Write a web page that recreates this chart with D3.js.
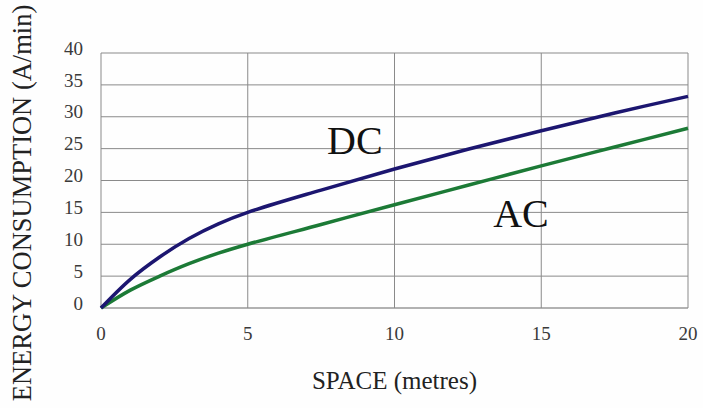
<!DOCTYPE html>
<html>
<head>
<meta charset="utf-8">
<script src="https://cdn.jsdelivr.net/npm/d3@7"></script>
<style>
  body { margin: 0; background: #fff; }
  svg { display: block; }
</style>
</head>
<body>
<div id="chart"></div>
<script>
// values
const space = [0, 1, 2, 3, 4, 5, 7.5, 10, 12.5, 15, 17.5, 20];
const dcValues = [0, 4.5, 8.0, 10.9, 13.2, 15, 18.5, 21.8, 24.9, 27.8, 30.6, 33.2];
const acValues = [0, 2.8, 5.0, 6.95, 8.6, 10, 13.1, 16.2, 19.25, 22.3, 25.25, 28.2];
const xTicks = [0, 5, 10, 15, 20];
const yTicks = [0, 5, 10, 15, 20, 25, 30, 35, 40];

const width = 703;
const height = 408;
const margin = { top: 53, right: 15, bottom: 100, left: 101 };
const font = "'Liberation Serif', 'DejaVu Serif', serif";

const svg = d3.select("#chart")
  .append("svg")
  .attr("width", width)
  .attr("height", height);

svg.append("rect")
  .attr("width", width)
  .attr("height", height)
  .attr("fill", "#fefefe");

const x = d3.scaleLinear()
  .domain([0, 20])
  .range([margin.left, width - margin.right]);

const y = d3.scaleLinear()
  .domain([0, 40])
  .range([height - margin.bottom, margin.top]);

// grid
const grid = svg.append("g").attr("stroke", "#8a8a8a").attr("stroke-width", 1);
grid.selectAll("line.h")
  .data(yTicks)
  .enter()
  .append("line")
  .attr("class", "h")
  .attr("x1", x(0))
  .attr("x2", x(20))
  .attr("y1", d => y(d))
  .attr("y2", d => y(d))
  .attr("stroke", d => d === 0 ? "#666" : null);
grid.selectAll("line.v")
  .data(xTicks)
  .enter()
  .append("line")
  .attr("class", "v")
  .attr("y1", y(0))
  .attr("y2", y(40))
  .attr("x1", d => x(d))
  .attr("x2", d => x(d));

// tick labels
svg.append("g")
  .selectAll("text")
  .data(yTicks)
  .enter()
  .append("text")
  .attr("x", 83)
  .attr("y", d => y(d) - 5)
  .attr("dy", "0.35em")
  .attr("text-anchor", "end")
  .style("font-family", font)
  .style("font-size", "19px")
  .style("fill", "#3a3a3a")
  .text(d => d);

svg.append("g")
  .selectAll("text")
  .data(xTicks)
  .enter()
  .append("text")
  .attr("x", d => x(d))
  .attr("y", y(0) + 25)
  .attr("dy", "0.35em")
  .attr("text-anchor", "middle")
  .style("font-family", font)
  .style("font-size", "19px")
  .style("fill", "#3a3a3a")
  .text(d => d);

// curves
const line = d3.line()
  .x(d => x(d[0]))
  .y(d => y(d[1]))
  .curve(d3.curveCatmullRom.alpha(0.5));

svg.append("path")
  .datum(d3.zip(space, acValues))
  .attr("fill", "none")
  .attr("stroke", "#1c7a36")
  .attr("stroke-width", 3.5)
  .attr("d", line);

svg.append("path")
  .datum(d3.zip(space, dcValues))
  .attr("fill", "none")
  .attr("stroke", "#1c1670")
  .attr("stroke-width", 3.5)
  .attr("d", line);

// curve labels
svg.append("text")
  .attr("x", x(8.65))
  .attr("y", y(24.16))
  .attr("text-anchor", "middle")
  .style("font-family", font)
  .style("font-size", "40px")
  .style("fill", "#111")
  .text("DC");

svg.append("text")
  .attr("x", x(14.31))
  .attr("y", y(12.7))
  .attr("text-anchor", "middle")
  .style("font-family", font)
  .style("font-size", "40px")
  .style("fill", "#111")
  .text("AC");

// axis titles
svg.append("text")
  .attr("x", x(10))
  .attr("y", 389)
  .attr("text-anchor", "middle")
  .style("font-family", font)
  .style("font-size", "25px")
  .style("fill", "#222")
  .text("SPACE (metres)");

svg.append("text")
  .attr("transform", "translate(31,203) rotate(-90)")
  .attr("text-anchor", "middle")
  .style("font-family", font)
  .style("font-size", "26.5px")
  .style("fill", "#222")
  .text("ENERGY CONSUMPTION (A/min)");
</script>
</body>
</html>
